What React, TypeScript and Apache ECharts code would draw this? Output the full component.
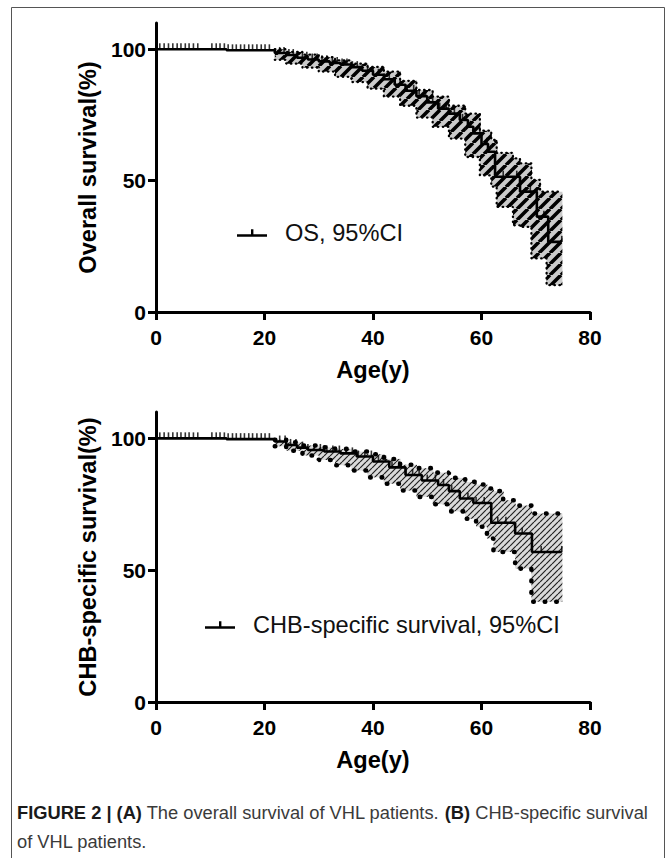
import React, { useEffect, useRef } from 'react';
import * as echarts from 'echarts';

// ---------- data ----------
const xTicks = [0, 20, 40, 60, 80];
const yTicks = [0, 50, 100];

// Kaplan–Meier overall survival: [age, survival% from this age on]
const osCurve: [number, number][] = [
  [0, 100], [13, 99.6], [21.9, 98.6], [24, 97.8], [26, 96.8], [28, 96.1], [30, 95.4],
  [32, 94.8], [34, 94.2], [36, 93.2], [38, 91.8], [40, 90.3], [42, 88.6], [44, 86.5],
  [46, 84.2], [48, 82.1], [50, 79.8], [52, 77.4], [54, 75.5], [56, 73.1], [57.5, 70.5],
  [58.5, 68], [60, 64], [61.2, 61], [62.5, 51.5], [67.1, 45.8], [70.2, 36.3],
  [72.3, 26.7], [74.8, 26.7],
];
const osCiAges = [21.9, 24, 27, 30, 33, 36, 39, 42, 45, 48, 51, 54, 57, 59.7, 61.8, 62.8, 65.8, 67.1, 69.2, 70.8, 72, 74.8];
const osCiUpper = [100, 99, 98, 97, 95.8, 94.5, 93.3, 91.5, 88, 84.5, 82, 78.5, 75.5, 69, 65.5, 60.6, 58.5, 56.6, 50.3, 45.8, 45.8, 45.8];
const osCiLower = [96, 94.5, 93, 91.5, 89.5, 87.5, 85, 82, 78.5, 74, 70.5, 66, 59, 52, 47.7, 40, 33, 32.4, 20.4, 20.4, 10.2, 10.2];
const osCensorAges = [
  0.7, 1.5, 2.3, 3.1, 3.9, 4.6, 5.4, 6.1, 6.9, 7.7, 10.3, 11.1, 11.8, 12.6, 13.3, 14.1, 14.8,
  15.6, 16.3, 17.1, 17.8, 18.6, 19.4, 20.1, 20.9, 22.8, 23.6, 24.5, 25.3, 26.1, 27, 27.8,
  28.8, 29.7, 30.6, 31.5, 32.5, 33.4, 34.3, 35.2, 36.2, 37.1, 38, 39, 40, 41, 42.1, 43, 44,
  45, 46.3, 47.5, 48.5, 49.7, 51, 52.3, 53.5, 55, 56.5, 58, 59.7, 61, 64, 66.5, 69, 71.5, 74.8,
];

// CHB-specific survival
const chbCurve: [number, number][] = [
  [0, 100], [13, 99.7], [21.9, 98.8], [24, 97.5], [26, 96.5], [28, 95.6], [31, 95],
  [34, 94.3], [37, 93.1], [40, 91.2], [43, 89], [46, 86.1], [49, 84], [52, 82.3],
  [54, 80], [56, 77.2], [58.5, 75.5], [61.8, 68], [66.2, 63.9], [69.3, 56.9], [74.8, 56.9],
];
const chbCiAges = [21.9, 24, 27, 30, 33, 36, 39, 42, 45, 48, 51, 54, 57, 59, 61, 62.2, 64, 66.2, 69.2, 74.8];
const chbCiUpper = [99.5, 98.5, 97.3, 96.6, 96, 95, 94, 92.2, 90, 88.7, 87, 85, 83.5, 82.5, 81, 80, 76.5, 74.5, 71.5, 71.5];
const chbCiLower = [97, 95.3, 93.5, 91.8, 89.8, 87.8, 85.2, 82.8, 80.2, 77.8, 75, 72.3, 69.5, 66.5, 62, 56.9, 56.9, 50.6, 38, 38];
const chbCensorAges = [
  0.7, 1.5, 2.3, 3.1, 3.9, 4.6, 5.4, 6.1, 6.9, 7.7, 10.3, 11.1, 11.8, 12.6, 13.3, 14.1, 14.8,
  15.6, 16.3, 17.1, 17.8, 18.6, 19.4, 20.1, 20.9, 22.8, 23.8, 24.8, 25.8, 27, 28, 29.2, 30.3,
  31.5, 32.6, 33.8, 35, 36.2, 37.3, 38.5, 39.7, 41, 42.3, 43.5, 44.8, 46, 47.3, 48.5, 50,
  51.5, 53, 54.5, 56, 57.5, 59, 60.5, 63, 64.5, 67.5, 71, 74.8,
];

const osName = 'OS, 95%CI';
const chbName = 'CHB-specific survival, 95%CI';
const yNames = ['Overall survival(%)', 'CHB-specific survival(%)'];
const xName = 'Age(y)';
const captionLine1 = '{b|FIGURE 2 | (A)} The overall survival of VHL patients. {b|(B)} CHB-specific survival';
const captionLine2 = 'of VHL patients.';

// ---------- helpers ----------
const FONT = '"Liberation Sans", Arial, Helvetica, sans-serif';
const CAP_FONT = '"Liberation Sans Narrow", "Arial Narrow", "Liberation Sans", sans-serif';

function stepValueAt(curve: [number, number][], age: number) {
  let v = curve[0][1];
  for (const [a, s] of curve) {
    if (a <= age) v = s;
    else break;
  }
  return v;
}

function makeHatch(size: number, bg: string, fg: string, lw: number) {
  const c = document.createElement('canvas');
  c.width = size;
  c.height = size;
  const ctx = c.getContext('2d')!;
  ctx.fillStyle = bg;
  ctx.fillRect(0, 0, size, size);
  ctx.strokeStyle = fg;
  ctx.lineWidth = lw;
  ctx.beginPath();
  for (const o of [-size, 0, size]) {
    ctx.moveTo(o, size);
    ctx.lineTo(o + size, 0);
  }
  ctx.stroke();
  return { image: c, repeat: 'repeat', imageWidth: size, imageHeight: size } as any;
}

function kmSeries(
  idx: number,
  name: string,
  curve: [number, number][],
  ciAges: number[],
  lower: number[],
  upper: number[],
  censor: number[],
  pattern: any,
  dot: any,
) {
  const cells = ciAges.slice(0, -1).map((a, i) => [a, ciAges[i + 1], lower[i], upper[i]]);
  return [
    {
      type: 'custom', name: name + ' band', xAxisIndex: idx, yAxisIndex: idx,
      coordinateSystem: 'cartesian2d', silent: true, z: 1,
      data: cells, encode: { x: [0, 1], y: [2, 3] },
      renderItem: (_p: any, api: any) => {
        const tl = api.coord([api.value(0), api.value(3)]);
        const br = api.coord([api.value(1), api.value(2)]);
        return {
          type: 'rect',
          shape: { x: tl[0], y: tl[1], width: br[0] - tl[0] + 0.6, height: br[1] - tl[1] },
          style: { fill: pattern },
        };
      },
    },
    {
      type: 'line', name: name + ' lower', xAxisIndex: idx, yAxisIndex: idx,
      data: ciAges.map((a, i) => [a, lower[i]]), step: 'end', symbol: 'none', silent: true,
      lineStyle: dot, z: 2,
    },
    {
      type: 'line', name: name + ' upper', xAxisIndex: idx, yAxisIndex: idx,
      data: ciAges.map((a, i) => [a, upper[i]]), step: 'end', symbol: 'none', silent: true,
      lineStyle: dot, z: 2,
    },
    {
      type: 'line', name, xAxisIndex: idx, yAxisIndex: idx, data: curve, step: 'end',
      symbol: 'none', color: '#000', lineStyle: { color: '#000', width: 2.6 }, z: 4,
    },
    {
      type: 'scatter', name: name + ' censored', xAxisIndex: idx, yAxisIndex: idx,
      data: censor.map((a) => [a, stepValueAt(curve, a)]),
      symbol: 'rect', symbolSize: [1.6, 6], symbolOffset: [0, -3],
      itemStyle: { color: '#000' }, z: 5, silent: true,
    },
  ];
}

export default function App() {
  const ref = useRef<HTMLDivElement>(null);

  useEffect(() => {
    if (!ref.current) return;
    const chart = echarts.init(ref.current, undefined, { renderer: 'svg' });

    const hatchA = makeHatch(11, '#cbcbcb', '#000', 3.6);
    const hatchB = makeHatch(6, '#dadada', '#222', 1.2);
    const dotA = { color: '#000', width: 2.3, type: [0.5, 4.5], cap: 'round' };
    const dotB = { color: '#000', width: 4.6, type: [0.5, 11], cap: 'round' };

    const grids = [
      { left: 156, top: 23, width: 434, height: 289 },
      { left: 156, top: 412, width: 434, height: 290 },
    ];

    const axisLine = { show: true, onZero: false, lineStyle: { color: '#000', width: 3 } };
    const axisTickBase = { show: true, length: 8, lineStyle: { color: '#000', width: 3 } };
    const labelBase = { color: '#000', fontSize: 21, fontWeight: 'bold', fontFamily: FONT };
    const nameStyle = { color: '#000', fontSize: 23.6, fontWeight: 'bold', fontFamily: FONT };
    const legendIcon = 'path://M0,5H30V7.6H0Z M14,0H16.4V6H14Z';

    const option: any = {
      animation: false,
      backgroundColor: '#fff',
      grid: grids,
      xAxis: [0, 1].map((i) => ({
        type: 'value', gridIndex: i, min: xTicks[0], max: xTicks[xTicks.length - 1], interval: 20,
        axisLine, axisTick: axisTickBase, splitLine: { show: false },
        axisLabel: { ...labelBase, margin: 15 },
        name: xName, nameLocation: 'middle', nameGap: 46, nameTextStyle: nameStyle,
      })),
      yAxis: [0, 1].map((i) => ({
        type: 'value', gridIndex: i, min: 0, max: 110,
        axisLine, axisTick: { ...axisTickBase, customValues: yTicks }, splitLine: { show: false },
        axisLabel: { ...labelBase, margin: 10, customValues: yTicks },
        name: yNames[i], nameLocation: 'middle', nameGap: 56, nameTextStyle: nameStyle,
      })),
      legend: [
        {
          data: [osName], left: 237, top: 221, padding: 0, selectedMode: false,
          icon: legendIcon, itemWidth: 30, itemHeight: 8, itemStyle: { color: '#000' },
          textStyle: { fontSize: 23.6, fontFamily: FONT, color: '#111', padding: [0, 0, 0, 13] },
        },
        {
          data: [chbName], left: 205, top: 613, padding: 0, selectedMode: false,
          icon: legendIcon, itemWidth: 30, itemHeight: 8, itemStyle: { color: '#000' },
          textStyle: { fontSize: 23.6, fontFamily: FONT, color: '#111', padding: [0, 0, 0, 13] },
        },
      ],
      series: [
        ...kmSeries(0, osName, osCurve, osCiAges, osCiLower, osCiUpper, osCensorAges, hatchA, dotA),
        ...kmSeries(1, chbName, chbCurve, chbCiAges, chbCiLower, chbCiUpper, chbCensorAges, hatchB, dotB),
      ],
      graphic: [
        {
          type: 'rect', silent: true,
          shape: { x: 11.5, y: 7.5, width: 653, height: 900 },
          style: { fill: 'none', stroke: '#555', lineWidth: 1 },
        },
        {
          type: 'text', x: 17, y: 812, silent: true,
          style: {
            text: captionLine1, verticalAlign: 'middle',
            font: '18.3px ' + CAP_FONT, fill: '#3a3a3a',
            rich: { b: { fontWeight: 'bold', fill: '#1a1a1a', fontSize: 18.3, fontFamily: CAP_FONT } },
          },
        },
        {
          type: 'text', x: 17, y: 841, silent: true,
          style: { text: captionLine2, verticalAlign: 'middle', font: '18.3px ' + CAP_FONT, fill: '#3a3a3a' },
        },
      ],
    };

    chart.setOption(option);
    return () => chart.dispose();
  }, []);

  return (
    <div
      ref={ref}
      style={{ position: 'absolute', left: 0, top: 0, width: 667, height: 858, background: '#fff' }}
    />
  );
}
